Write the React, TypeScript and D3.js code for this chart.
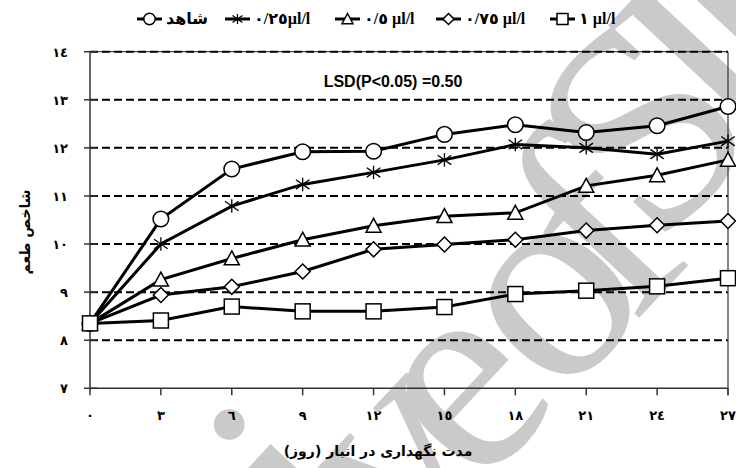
import React from 'react';
import * as d3 from 'd3';

const days = [0, 3, 6, 9, 12, 15, 18, 21, 24, 27];
const dayLabels = ['٠', '٣', '٦', '٩', '١٢', '١٥', '١٨', '٢١', '٢٤', '٢٧'];
const yTicks = [7, 8, 9, 10, 11, 12, 13, 14];
const yTickLabels = ['٧', '٨', '٩', '١٠', '١١', '١٢', '١٣', '١٤'];

const seriesNames = ['شاهد', '٠/٢٥µl/l', '٠/٥ µl/l', '٠/٧٥ µl/l', '١ µl/l'];
const seriesMarkers = ['circle', 'star', 'triangle', 'diamond', 'square'];
const control = [8.35, 10.52, 11.56, 11.92, 11.93, 12.28, 12.48, 12.32, 12.46, 12.86];
const c025 = [8.35, 10.0, 10.79, 11.24, 11.49, 11.75, 12.07, 12.0, 11.87, 12.14];
const c05 = [8.35, 9.26, 9.7, 10.09, 10.38, 10.58, 10.65, 11.21, 11.43, 11.75];
const c075 = [8.35, 8.94, 9.11, 9.43, 9.89, 9.99, 10.09, 10.28, 10.39, 10.48];
const c1 = [8.35, 8.41, 8.7, 8.6, 8.6, 8.69, 8.96, 9.03, 9.12, 9.29];
const seriesValues = [control, c025, c05, c075, c1];

const xTitle = 'مدت نگهداری در انبار (روز)';
const yTitle = 'شاخص طعم';
const lsdText = 'LSD(P<0.05) =0.50';
const watermarkParts = ['Archi', 've of', 'SID'];

const legendX = [137, 225, 335, 436, 550];

function Marker({ type, x, y, s }: { type: string; x: number; y: number; s: number }) {
  const sw = 1.5;
  if (type === 'circle') return <circle cx={x} cy={y} r={s * 0.52} fill="#fff" stroke="#000" strokeWidth={sw} />;
  if (type === 'square')
    return <rect x={x - s / 2} y={y - s / 2} width={s} height={s} fill="#fff" stroke="#000" strokeWidth={sw} />;
  if (type === 'diamond') {
    const h = s * 0.5;
    return <path d={`M${x},${y - h}L${x + h},${y}L${x},${y + h}L${x - h},${y}Z`} fill="#fff" stroke="#000" strokeWidth={sw} />;
  }
  if (type === 'triangle') {
    const h = s * 0.5;
    return <path d={`M${x},${y - h}L${x + h},${y + h * 0.85}L${x - h},${y + h * 0.85}Z`} fill="#fff" stroke="#000" strokeWidth={sw} />;
  }
  const h = s * 0.45;
  return (
    <g stroke="#000" strokeWidth={1.3}>
      <line x1={x} y1={y - h} x2={x} y2={y + h} />
      <line x1={x - h} y1={y - h * 0.7} x2={x + h} y2={y + h * 0.7} />
      <line x1={x - h} y1={y + h * 0.7} x2={x + h} y2={y - h * 0.7} />
    </g>
  );
}

export default function App() {
  const W = 736, H = 468;
  const x = d3.scaleLinear().domain([0, 27]).range([90, 728]);
  const y = d3.scaleLinear().domain([7, 14]).range([388.3, 51.7]);
  const line = d3.line<number>().x((_, i) => x(days[i])).y((d) => y(d));
  const arabicFont = "'DejaVu Sans', sans-serif";
  const wmPos = [
    [46, 880],
    [405, 569],
    [657, 251],
  ];

  return (
    <svg width={W} height={H} style={{ position: 'absolute', left: 0, top: 0 }}>
      <rect width={W} height={H} fill="#fff" />
      {/* watermark */}
      {watermarkParts.map((p, i) => (
        <text
          key={i}
          transform={`translate(${wmPos[i][0]},${wmPos[i][1]}) rotate(-47)`}
          fontFamily="'Liberation Serif', serif"
          fontSize={290}
          letterSpacing={-40}
          fill="#cacaca"
        >
          {p}
        </text>
      ))}

      {/* gridlines */}
      <line x1={x(0)} x2={x(27)} y1={y(14)} y2={y(14)} stroke="#222" strokeWidth={1} />
      {yTicks.filter((t) => t > 7).map((t) => (
        <line key={t} x1={x(0)} x2={x(27)} y1={y(t)} y2={y(t)} stroke="#000" strokeWidth={2} strokeDasharray="8,4" />
      ))}
      {/* right border */}
      <line x1={x(27)} x2={x(27)} y1={y(14)} y2={y(7) + 7} stroke="#333" strokeWidth={1.2} />
      {/* axes */}
      <line x1={x(0)} x2={x(0)} y1={y(14)} y2={y(7)} stroke="#333" strokeWidth={1.5} />
      <line x1={x(0)} x2={x(27)} y1={y(7)} y2={y(7)} stroke="#333" strokeWidth={1.5} />
      {yTicks.map((t) => (
        <line key={t} x1={x(0) - 6} x2={x(0) + 7} y1={y(t)} y2={y(t)} stroke="#333" strokeWidth={1.5} />
      ))}
      {days.map((d) => (
        <line key={d} x1={x(d)} x2={x(d)} y1={y(7)} y2={y(7) + 7} stroke="#333" strokeWidth={1.5} />
      ))}
      {yTicks.map((t, i) => (
        <text key={t} x={68} y={y(t) + 5} textAnchor="end" fontFamily={arabicFont} fontWeight="bold" fontSize={13}>
          {yTickLabels[i]}
        </text>
      ))}
      {days.map((d, i) => (
        <text key={d} x={x(d)} y={420} textAnchor="middle" fontFamily={arabicFont} fontWeight="bold" fontSize={13}>
          {dayLabels[i]}
        </text>
      ))}

      {/* series */}
      {seriesValues.map((vals, si) => (
        <g key={si}>
          <path d={line(vals) || ''} fill="none" stroke="#000" strokeWidth={3} />
          {vals.map((v, i) => (
            <Marker key={i} type={seriesMarkers[si]} x={x(days[i])} y={y(v)} s={15} />
          ))}
        </g>
      ))}

      {/* LSD */}
      <text x={393} y={87} textAnchor="middle" fontFamily="'Liberation Sans', Arial, sans-serif" fontWeight="bold" fontSize={16}>
        {lsdText}
      </text>

      {/* legend */}
      {seriesNames.map((n, i) => (
        <g key={i}>
          <line x1={legendX[i]} x2={legendX[i] + 25} y1={19} y2={19} stroke="#000" strokeWidth={3} />
          <Marker type={seriesMarkers[i]} x={legendX[i] + 12.5} y={19} s={11} />
          <text
            x={legendX[i] + 29}
            y={24}
            direction="ltr"
            fontFamily="'Liberation Serif', 'DejaVu Sans', serif"
            fontWeight="bold"
            fontSize={16}
          >
            {n}
          </text>
        </g>
      ))}

      {/* axis titles */}
      <text x={378} y={456} textAnchor="middle" fontFamily={arabicFont} fontWeight="bold" fontSize={14}>
        {xTitle}
      </text>
      <text
        transform="translate(30,232) rotate(-90)"
        textAnchor="middle"
        fontFamily={arabicFont}
        fontWeight="bold"
        fontSize={14}
      >
        {yTitle}
      </text>
    </svg>
  );
}
